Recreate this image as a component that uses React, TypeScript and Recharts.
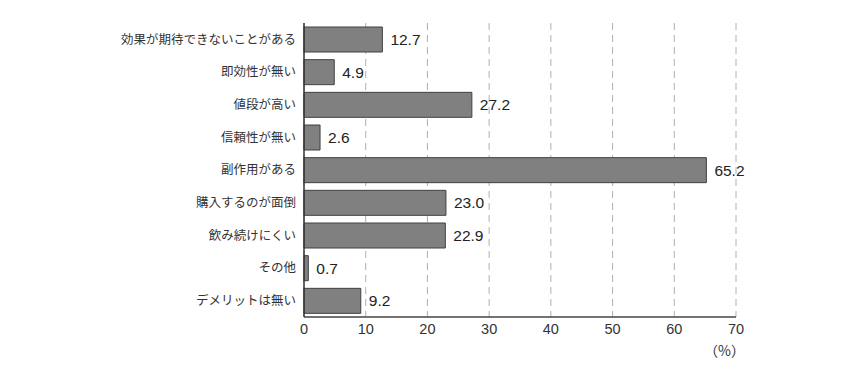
import React from 'react';
import { BarChart, Bar, XAxis, YAxis, CartesianGrid, LabelList } from 'recharts';

const categories = [
  '効果が期待できないことがある',
  '即効性が無い',
  '値段が高い',
  '信頼性が無い',
  '副作用がある',
  '購入するのが面倒',
  '飲み続けにくい',
  'その他',
  'デメリットは無い',
];
const values = [12.7, 4.9, 27.2, 2.6, 65.2, 23.0, 22.9, 0.7, 9.2];
const xTicks = [0, 10, 20, 30, 40, 50, 60, 70];

const data = categories.map((name, i) => ({ name, value: values[i] }));

const numFont = '"Liberation Sans", Arial, sans-serif';
const jpFont = '"Noto Sans CJK JP", sans-serif';

export default function App() {
  return (
    <div style={{ position: 'relative', width: 834, height: 380 }}>
      <BarChart
        width={834}
        height={380}
        data={data}
        layout="vertical"
        margin={{ top: 15, right: 106, left: 0, bottom: 41 }}
        barCategoryGap={4}
      >
        <CartesianGrid horizontal={false} strokeDasharray="7 5" stroke="#b0b0b0" />
        <XAxis
          type="number"
          domain={[0, 70]}
          ticks={xTicks}
          height={30}
          tickLine={false}
          tickSize={5}
          axisLine={{ stroke: '#444', strokeWidth: 1.5 }}
          tick={{ fill: '#333', fontSize: 14.5, fontFamily: numFont }}
          interval={0}
        />
        <YAxis
          type="category"
          dataKey="name"
          width={296}
          tickLine={false}
          axisLine={{ stroke: '#333', strokeWidth: 1.5 }}
          tick={{ fill: '#333', fontSize: 12.5, fontFamily: jpFont }}
          interval={0}
        />
        <Bar
          dataKey="value"
          fill="#808080"
          stroke="#404040"
          strokeWidth={1}
          barSize={25}
          isAnimationActive={false}
        >
          <LabelList
            dataKey="value"
            position="right"
            offset={8}
            formatter={(v: any) => Number(v).toFixed(1)}
            style={{ fill: '#222', fontSize: 15.5, fontFamily: numFont }}
          />
        </Bar>
      </BarChart>
      <div
        style={{
          position: 'absolute',
          left: 696,
          top: 332,
          fontSize: 14,
          color: '#333',
          fontFamily: jpFont,
        }}
      >
        （%）
      </div>
    </div>
  );
}
